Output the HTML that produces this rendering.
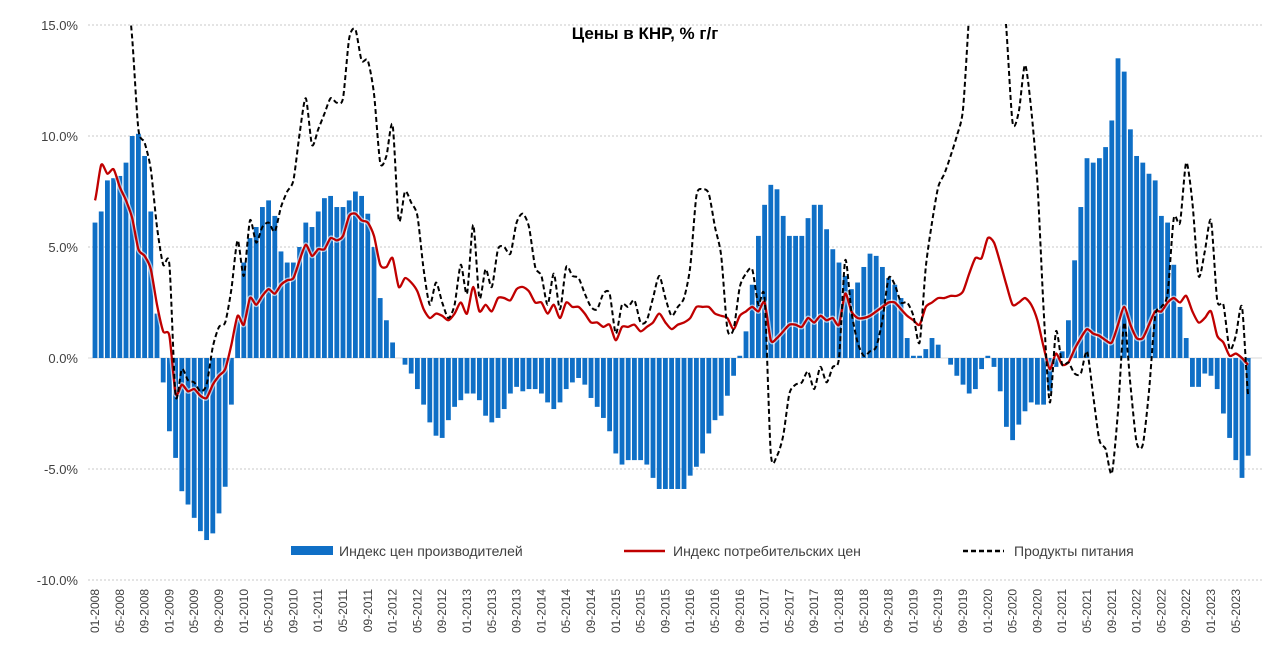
<!DOCTYPE html>
<html><head><meta charset="utf-8"><style>
body{margin:0;background:#fff;}
svg{display:block;font-family:"Liberation Sans",sans-serif;}
</style></head><body>
<svg id="chart" width="1280" height="660">
<defs><clipPath id="plot"><rect x="85" y="24" width="1180" height="560"/></clipPath></defs>
<text x="645" y="39" text-anchor="middle" font-size="17" font-weight="bold" fill="#000">Цены в КНР, % г/г</text>
<g id="grid"></g><g id="yaxis"></g><g id="xaxis"></g>
<g id="bars" clip-path="url(#plot)"></g>
<g id="lines" clip-path="url(#plot)"></g>
<g>
<g><rect x="291" y="546" width="42" height="9" fill="#0f6fc6"/><text x="339" y="556" font-size="14" fill="#404040">Индекс цен производителей</text></g>
<g><line x1="624" y1="551" x2="665" y2="551" stroke="#c00000" stroke-width="2.5"/><text x="673" y="556" font-size="14" fill="#404040">Индекс потребительских цен</text></g>
<g><line x1="963" y1="551" x2="1004" y2="551" stroke="#000" stroke-width="2.5" stroke-dasharray="5,3"/><text x="1014" y="556" font-size="14" fill="#404040">Продукты питания</text></g>
</g>
</svg>
<script>
const startYear = 2008;
const yTicks = [15, 10, 5, 0, -5, -10];
const yTickLabels = ["15.0%", "10.0%", "5.0%", "0.0%", "-5.0%", "-10.0%"];
const ppi = [6.1,6.6,8.0,8.1,8.2,8.8,10.0,10.1,9.1,6.6,2.0,-1.1,
-3.3,-4.5,-6.0,-6.6,-7.2,-7.8,-8.2,-7.9,-7.0,-5.8,-2.1,1.7,
4.3,5.4,5.9,6.8,7.1,6.4,4.8,4.3,4.3,5.0,6.1,5.9,
6.6,7.2,7.3,6.8,6.8,7.1,7.5,7.3,6.5,5.0,2.7,1.7,
0.7,0.0,-0.3,-0.7,-1.4,-2.1,-2.9,-3.5,-3.6,-2.8,-2.2,-1.9,
-1.6,-1.6,-1.9,-2.6,-2.9,-2.7,-2.3,-1.6,-1.3,-1.5,-1.4,-1.4,
-1.6,-2.0,-2.3,-2.0,-1.4,-1.1,-0.9,-1.2,-1.8,-2.2,-2.7,-3.3,
-4.3,-4.8,-4.6,-4.6,-4.6,-4.8,-5.4,-5.9,-5.9,-5.9,-5.9,-5.9,
-5.3,-4.9,-4.3,-3.4,-2.8,-2.6,-1.7,-0.8,0.1,1.2,3.3,5.5,
6.9,7.8,7.6,6.4,5.5,5.5,5.5,6.3,6.9,6.9,5.8,4.9,
4.3,3.7,3.1,3.4,4.1,4.7,4.6,4.1,3.6,3.3,2.7,0.9,
0.1,0.1,0.4,0.9,0.6,0.0,-0.3,-0.8,-1.2,-1.6,-1.4,-0.5,
0.1,-0.4,-1.5,-3.1,-3.7,-3.0,-2.4,-2.0,-2.1,-2.1,-1.5,-0.4,
0.3,1.7,4.4,6.8,9.0,8.8,9.0,9.5,10.7,13.5,12.9,10.3,
9.1,8.8,8.3,8.0,6.4,6.1,4.2,2.3,0.9,-1.3,-1.3,-0.7,
-0.8,-1.4,-2.5,-3.6,-4.6,-5.4,-4.4];
const cpi = [7.1,8.7,8.3,8.5,7.7,7.1,6.3,4.9,4.6,4.0,2.4,1.2,
1.0,-1.6,-1.2,-1.5,-1.4,-1.7,-1.8,-1.2,-0.8,-0.5,0.6,1.9,
1.5,2.7,2.4,2.8,3.1,2.9,3.3,3.5,3.6,4.4,5.1,4.6,
4.9,4.9,5.4,5.3,5.5,6.4,6.5,6.2,6.1,5.5,4.2,4.1,
4.5,3.2,3.6,3.4,3.0,2.2,1.8,2.0,1.9,1.7,2.0,2.5,
2.0,3.2,2.1,2.4,2.1,2.7,2.7,2.6,3.1,3.2,3.0,2.5,
2.5,2.0,2.4,1.8,2.5,2.3,2.3,2.0,1.6,1.6,1.4,1.5,
0.8,1.4,1.4,1.5,1.2,1.4,1.6,2.0,1.6,1.3,1.5,1.6,
1.8,2.3,2.3,2.3,2.0,1.9,1.8,1.3,1.9,2.1,2.3,2.1,
2.5,0.8,0.9,1.2,1.5,1.5,1.4,1.8,1.6,1.9,1.7,1.8,
1.5,2.9,2.1,1.8,1.8,1.9,2.1,2.3,2.5,2.5,2.2,1.9,
1.7,1.5,2.3,2.5,2.7,2.7,2.8,2.8,3.0,3.8,4.5,4.5,
5.4,5.2,4.3,3.3,2.4,2.5,2.7,2.4,1.7,0.5,-0.5,0.2,
-0.3,-0.2,0.4,0.9,1.3,1.1,1.0,0.8,0.7,1.5,2.3,1.5,
0.9,0.9,1.5,2.1,2.1,2.5,2.7,2.5,2.8,2.1,1.6,1.8,
2.1,1.0,0.7,0.1,0.2,0.0,-0.3];
const food = [18.2,23.3,21.4,22.1,19.9,17.3,14.4,10.3,9.7,8.5,5.9,4.2,
4.2,-1.7,-0.5,-1.0,-1.1,-1.5,-1.2,0.5,1.4,1.6,3.1,5.3,
3.7,6.2,5.2,5.9,6.1,5.7,6.8,7.5,8.0,10.1,11.7,9.6,
10.3,11.0,11.7,11.5,11.7,14.4,14.8,13.4,13.4,11.9,8.8,9.1,
10.5,6.2,7.5,7.0,6.4,4.0,2.4,3.4,2.5,1.8,2.4,4.2,
2.9,6.0,2.7,4.0,3.2,4.9,5.0,4.7,6.1,6.5,5.9,4.1,
3.7,2.4,3.8,2.2,4.1,3.7,3.6,2.9,2.3,2.2,2.9,2.9,
1.1,2.4,2.3,2.6,1.6,1.7,2.7,3.7,2.7,1.9,2.3,2.7,
4.1,7.3,7.6,7.4,5.9,4.6,1.3,1.3,3.2,3.8,4.0,2.4,
2.7,-4.3,-4.4,-3.5,-1.6,-1.2,-1.1,-0.6,-1.4,-0.4,-1.1,-0.4,
0.0,4.4,2.1,0.7,0.1,0.3,0.5,1.7,3.6,3.3,2.5,2.5,
1.9,0.7,4.1,6.1,7.7,8.3,9.1,10.0,11.2,15.5,19.1,17.4,
20.6,21.9,18.3,14.8,10.6,11.1,13.2,11.2,7.9,2.2,-2.0,1.2,
-0.3,-0.2,-0.7,-0.7,0.3,-1.7,-3.7,-4.1,-5.2,-2.4,1.6,-1.2,
-3.8,-3.9,-1.5,1.9,2.3,2.9,6.3,6.1,8.8,7.0,3.7,4.8,
6.2,2.6,2.4,0.4,1.0,2.3,-1.7];

const NS = "http://www.w3.org/2000/svg";
const X0 = 95, DX = 6.2, Y0 = 358, KY = 22.2;
function x(i){ return X0 + i*DX; }
function y(v){ return Y0 - v*KY; }
function mk(tag, attrs, parent){ const e=document.createElementNS(NS,tag); for(const k in attrs) e.setAttribute(k,attrs[k]); parent.appendChild(e); return e; }

const grid=document.getElementById('grid'), yax=document.getElementById('yaxis');
yTicks.forEach((t,k)=>{
  const gl=mk('line',{x1:88,x2:1262,y1:y(t),y2:y(t),stroke:t===0?'#d9d9d9':'#c8c8c8','stroke-width':1,'stroke-dasharray':t===0?'':'2,2'},grid);
  
  
  const tx=mk('text',{x:78,y:y(t)+5,'text-anchor':'end','font-size':13,fill:'#404040'},yax);
  tx.textContent=yTickLabels[k];
  
  
});
const xax=document.getElementById('xaxis');
for(let i=0;i<ppi.length;i+=4){
  const m=i%12+1, yr=startYear+Math.floor(i/12);
  const lbl=(m<10?'0':'')+m+'-'+yr;
  const tx=mk('text',{x:0,y:0,'text-anchor':'end','font-size':12,fill:'#404040',transform:`translate(${x(i)+4},589) rotate(-90)`},xax);
  tx.textContent=lbl;
  
  
}
const bars=document.getElementById('bars');
ppi.forEach((v,i)=>{
  const r=mk('rect',{x:x(i)-2.4,y:Math.min(y(v),Y0),width:4.8,height:Math.abs(v*KY),fill:'#0f6fc6'},bars);
  
  
});
function path(arr){
  let d='M'+x(0)+','+y(arr[0]);
  for(let i=0;i<arr.length-1;i++){
    const p0=arr[Math.max(i-1,0)],p1=arr[i],p2=arr[i+1],p3=arr[Math.min(i+2,arr.length-1)];
    const t=0.25;
    d+=` C${x(i)+DX*t/0.5*0.5*2/2*2/2},${y(p1+(p2-p0)*t/2*2/2)} ${x(i+1)-DX*t},${y(p2-(p3-p1)*t/2)} ${x(i+1)},${y(p2)}`;
  }
  return d;
}
const lines=document.getElementById('lines');
const halo=mk('path',{d:path(cpi),fill:'none',stroke:'#fff','stroke-width':5,'stroke-opacity':0.6},lines);


const cl=mk('path',{d:path(cpi),fill:'none',stroke:'#c00000','stroke-width':2.3},lines);


const fl=mk('path',{d:path(food),fill:'none',stroke:'#000','stroke-width':2,'stroke-dasharray':'5,3'},lines);


</script>
</body></html>
